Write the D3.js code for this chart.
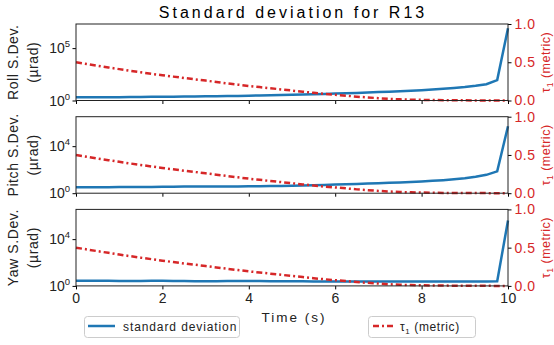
<!DOCTYPE html>
<html>
<head>
<meta charset="utf-8">
<script src="https://cdn.jsdelivr.net/npm/d3@7"></script>
<style>
  body { margin: 0; background: #fff; }
  text { font-family: "Liberation Sans", Arial, sans-serif; }
</style>
</head>
<body>
<svg id="chart" width="554" height="345"></svg>
<script>
// time samples (s)
const time = [0, 0.25, 0.5, 0.75, 1, 1.25, 1.5, 1.75, 2, 2.25, 2.5, 2.75, 3, 3.25, 3.5, 3.75,
  4, 4.25, 4.5, 4.75, 5, 5.25, 5.5, 5.75, 6, 6.25, 6.5, 6.75, 7, 7.25, 7.5, 7.75,
  8, 8.25, 8.5, 8.75, 9, 9.25, 9.5, 9.75, 10]

// standard deviation, µrad
const rollStd = [2.0, 2.0, 2.04, 2.04, 2.09, 2.14, 2.19, 2.24, 2.29, 2.34, 2.40, 2.45, 2.51, 2.57, 2.69, 2.75,
  2.88, 3.02, 3.16, 3.31, 3.47, 3.72, 3.98, 4.27, 4.57, 4.90, 5.25, 5.75, 6.31, 6.92, 7.59, 8.51,
  9.55, 11.0, 12.9, 15.5, 19.1, 25.1, 35.5, 89, 7.9e6]
const pitchStd = [3.16, 3.16, 3.24, 3.24, 3.31, 3.31, 3.31, 3.39, 3.47, 3.55, 3.63, 3.63, 3.72, 3.72, 3.80, 3.80,
  3.89, 3.98, 4.07, 4.17, 4.37, 4.57, 4.79, 5.01, 5.37, 5.75, 6.17, 6.61, 7.08, 7.59, 8.32, 9.12,
  10.0, 11.2, 12.9, 15.5, 19.1, 25.1, 36.3, 72.4, 5.0e5]
const yawStd = [2.8, 2.8, 2.7, 2.7, 2.6, 2.6, 2.6, 2.7, 2.7, 2.6, 2.6, 2.5, 2.5, 2.5, 2.6, 2.6,
  2.6, 2.6, 2.5, 2.5, 2.5, 2.5, 2.4, 2.4, 2.4, 2.4, 2.4, 2.4, 2.4, 2.4, 2.4, 2.4,
  2.4, 2.4, 2.4, 2.4, 2.4, 2.4, 2.4, 2.5, 4.0e5]

// tau_1 metric
const tau1 = [0.500, 0.477, 0.454, 0.432, 0.410, 0.389, 0.369, 0.349, 0.330, 0.312, 0.294, 0.277, 0.260, 0.242, 0.224, 0.207,
  0.190, 0.175, 0.160, 0.145, 0.130, 0.115, 0.100, 0.087, 0.075, 0.063, 0.050, 0.040, 0.030, 0.022, 0.015, 0.011,
  0.008, 0.006, 0.004, 0.003, 0.002, 0.001, 0.001, 0.000, 0.000]

const xTicks = [0, 2, 4, 6, 8, 10]
const tauTicks = [0, 0.5, 1]

const panels = [
  { name: 'Roll', std: rollStd, tau: tau1, ymax: 2e7, ticks: [[1, 0], [1e5, 5]] },
  { name: 'Pitch', std: pitchStd, tau: tau1, ymax: 3.2e6, ticks: [[1, 0], [1e4, 4]] },
  { name: 'Yaw', std: yawStd, tau: tau1, ymax: 3.5e6, ticks: [[1, 0], [1e4, 4]] },
]

const blue = '#1f77b4', red = '#d62728'
const left = 76, right = 508, top0 = 24, panelH = 76.5, panelStep = 92.7

const svg = d3.select('#chart')
const x = d3.scaleLinear().domain([0, 10]).range([left, right])

svg.append('text')
  .attr('x', (left + right) / 2 + 1).attr('y', 18)
  .attr('text-anchor', 'middle')
  .style('font-size', '16px').style('letter-spacing', '3px')
  .text('Standard deviation for R13')

panels.forEach((p, i) => {
  const top = top0 + i * panelStep, bottom = top + panelH
  const y = d3.scaleLog().domain([1, p.ymax]).range([bottom, top])
  const yr = d3.scaleLinear().domain([0, 1]).range([bottom, top])
  const g = svg.append('g')

  const pts = time.map((t, k) => ({ t, s: p.std[k], r: p.tau[k] }))

  g.append('path').datum(pts)
    .attr('fill', 'none').attr('stroke', blue).attr('stroke-width', 2.5)
    .attr('d', d3.line().x(d => x(d.t)).y(d => y(d.s)))

  g.append('path').datum(pts)
    .attr('fill', 'none').attr('stroke', red).attr('stroke-width', 2.5)
    .attr('stroke-dasharray', '6,3,2,3')
    .attr('d', d3.line().x(d => x(d.t)).y(d => yr(d.r)))

  // x axis
  const xa = g.append('g').attr('transform', `translate(0,${bottom})`)
    .call(d3.axisBottom(x).tickValues(xTicks).tickSize(3.5).tickPadding(4)
      .tickFormat(i === panels.length - 1 ? d3.format('d') : ''))
  xa.select('.domain').remove()
  xa.selectAll('text').style('font-size', '14px').style('letter-spacing', '0.5px').attr('fill', '#222')

  // left log axis
  const ya = g.append('g').attr('transform', `translate(${left},0)`)
    .call(d3.axisLeft(y).tickValues(p.ticks.map(d => d[0])).tickSize(3.5).tickFormat(''))
  ya.select('.domain').remove()
  p.ticks.forEach(([v, e]) => {
    const t = g.append('text').attr('x', 70).attr('y', y(v) + 5)
      .attr('text-anchor', 'end').style('font-size', '14px').attr('fill', '#222')
    t.append('tspan').text('10')
    t.append('tspan').attr('dy', -6).style('font-size', '9.5px').text(e)
  })

  // right tau axis
  const ra = g.append('g').attr('transform', `translate(${right},0)`)
    .call(d3.axisRight(yr).tickValues(tauTicks).tickSize(3.5).tickPadding(3).tickFormat(d3.format('.1f')))
  ra.select('.domain').remove()
  ra.selectAll('text').style('font-size', '14px').style('letter-spacing', '0.5px').attr('fill', red)

  // frame
  g.append('rect').attr('x', left).attr('y', top).attr('width', right - left).attr('height', panelH)
    .attr('fill', 'none').attr('stroke', '#222').attr('stroke-width', 1)

  // labels
  const cy = (top + bottom) / 2
  const yl = g.append('text').attr('transform', `translate(0,${cy}) rotate(-90)`)
    .attr('text-anchor', 'middle').style('font-size', '14px').style('letter-spacing', '0.6px').attr('fill', '#222')
  yl.append('tspan').attr('x', 0).attr('y', 18).text(p.name + ' S.Dev.')
  yl.append('tspan').attr('x', 0).attr('y', 38).text('(µrad)')

  const rl = g.append('text').attr('transform', `translate(550,${cy}) rotate(-90)`)
    .attr('text-anchor', 'middle').style('font-size', '12.5px').style('letter-spacing', '0.5px').attr('fill', red)
  rl.append('tspan').text('τ')
  rl.append('tspan').attr('dy', 3).style('font-size', '8.5px').text('1')
  rl.append('tspan').attr('dy', -3).text(' (metric)')
})

svg.append('text').attr('x', (left + right) / 2 + 2).attr('y', 322)
  .attr('text-anchor', 'middle').style('font-size', '13.5px').style('letter-spacing', '2px')
  .attr('fill', '#222').text('Time (s)')

// legends
const leg1 = svg.append('g')
leg1.append('rect').attr('x', 84.5).attr('y', 316.5).attr('width', 155).attr('height', 21).attr('rx', 3)
  .attr('fill', '#fff').attr('stroke', '#ccc')
leg1.append('line').attr('x1', 88).attr('x2', 115).attr('y1', 326).attr('y2', 326)
  .attr('stroke', blue).attr('stroke-width', 2.5)
leg1.append('text').attr('x', 123).attr('y', 330.5).style('font-size', '12px').style('letter-spacing', '0.9px')
  .attr('fill', '#222').text('standard deviation')

const leg2 = svg.append('g')
leg2.append('rect').attr('x', 368.5).attr('y', 316.5).attr('width', 107).attr('height', 21).attr('rx', 3)
  .attr('fill', '#fff').attr('stroke', '#ccc')
leg2.append('line').attr('x1', 373).attr('x2', 394).attr('y1', 326).attr('y2', 326)
  .attr('stroke', red).attr('stroke-width', 2.5).attr('stroke-dasharray', '6,3,2,3')
const lt = leg2.append('text').attr('x', 400).attr('y', 330.5).style('font-size', '12px')
  .style('letter-spacing', '0.6px').attr('fill', '#222')
lt.append('tspan').text('τ')
lt.append('tspan').attr('dy', 3).style('font-size', '8px').text('1')
lt.append('tspan').attr('dy', -3).text(' (metric)')
</script>
</body>
</html>
